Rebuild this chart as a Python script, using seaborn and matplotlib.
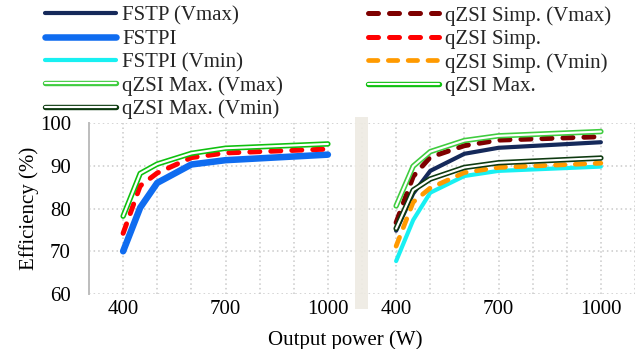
import matplotlib
matplotlib.use("Agg")
import matplotlib.pyplot as plt
import matplotlib.patheffects as pe
import seaborn as sns

# Output power (W) at which efficiency was measured
power = [400, 450, 500, 600, 700, 1000]

# Left group: nominal input voltage
fstpi = [70.0, 80.2, 86.0, 90.3, 91.3, 92.6]
qzsi_simp = [74.2, 85.3, 88.3, 91.9, 93.0, 93.9]
qzsi_max = [78.2, 88.2, 90.4, 92.9, 94.1, 95.1]

# Right group: maximum / minimum input voltage
fstp_vmax = [74.8, 83.5, 88.8, 92.8, 94.2, 95.5]
fstpi_vmin = [67.7, 77.3, 83.7, 87.6, 88.8, 89.8]
qzsi_simp_vmax = [76.7, 87.5, 92.0, 94.7, 96.0, 96.8]
qzsi_simp_vmin = [71.2, 81.5, 84.8, 88.4, 89.6, 90.6]
qzsi_max_vmax = [80.6, 89.9, 93.3, 95.9, 97.0, 98.0]
qzsi_max_vmin = [75.3, 84.3, 86.9, 89.6, 90.7, 91.8]

# Tick labels of the shared x axis (each group repeats the same scale)
tick_labels = ["400", "700", "1000"]
tick_values = [400, 700, 1000]

# The second group is drawn to the right of the first on one axis
GROUP_SHIFT = 800

sns.set_theme(style="white")
plt.rcParams["font.family"] = ["Liberation Serif", "DejaVu Serif"]
FS = 15

fig = plt.figure(figsize=(6.41, 3.49), dpi=100)
ax = fig.add_axes([89 / 641, 1 - 294 / 349, (635 - 89) / 641, (294 - 123) / 349])


def draw(x, y, color, lw, dashed=False, double=False, label=None, shift=0):
    xs = [v + shift for v in x]
    kw = dict(solid_capstyle="round", dash_capstyle="round",
              solid_joinstyle="round", dash_joinstyle="round")
    if double:
        sns.lineplot(x=xs, y=y, ax=ax, color="white", lw=lw * 0.4,
                     label=label, legend=False, sort=False,
                     path_effects=[pe.Stroke(linewidth=lw, foreground=color),
                                   pe.Normal()], **kw)
    elif dashed:
        sns.lineplot(x=xs, y=y, ax=ax, color=color, lw=lw,
                     linestyle=(0, (2.0, 2.2)), label=label, legend=False,
                     sort=False, **kw)
    else:
        sns.lineplot(x=xs, y=y, ax=ax, color=color, lw=lw, label=label,
                     legend=False, sort=False, **kw)


C_NAVY = "#15295A"
C_BLUE = "#0F6CF0"
C_CYAN = "#18F0F2"
C_DRED = "#7E0000"
C_RED = "#FF0000"
C_ORANGE = "#FF9A00"
C_LGREEN = "#3FCC3F"
C_GREEN = "#0FC00F"
C_DGREEN = "#0E3A10"

# left group
draw(power, fstpi, C_BLUE, 4.7, label="FSTPI")
draw(power, qzsi_simp, C_RED, 3.6, dashed=True, label="qZSI Simp.")
draw(power, qzsi_max, C_GREEN, 3.9, double=True, label="qZSI Max.")

# right group
draw(power, fstp_vmax, C_NAVY, 3.0, label="FSTP (Vmax)", shift=GROUP_SHIFT)
draw(power, fstpi_vmin, C_CYAN, 3.0, label="FSTPI (Vmin)", shift=GROUP_SHIFT)
draw(power, qzsi_simp_vmin, C_ORANGE, 3.4, dashed=True,
     label="qZSI Simp. (Vmin)", shift=GROUP_SHIFT)
draw(power, qzsi_simp_vmax, C_DRED, 3.6, dashed=True,
     label="qZSI Simp. (Vmax)", shift=GROUP_SHIFT)
draw(power, qzsi_max_vmin, C_DGREEN, 3.9, double=True,
     label="qZSI Max. (Vmin)", shift=GROUP_SHIFT)
draw(power, qzsi_max_vmax, C_LGREEN, 3.9, double=True,
     label="qZSI Max. (Vmax)", shift=GROUP_SHIFT)

# axes, grid and ticks
ax.set_xlim(300, 1900)
ax.set_ylim(60, 100)
grid_x = list(range(300, 1901, 100))
ax.set_xticks(grid_x)
label_map = {v: t for v, t in zip(tick_values, tick_labels)}
label_map.update({v + GROUP_SHIFT: t for v, t in zip(tick_values, tick_labels)})
ax.set_xticklabels([label_map.get(v, "") for v in grid_x])
ax.set_yticks([60, 70, 80, 90, 100])
ax.tick_params(axis="both", length=0, labelsize=FS, colors="black")
ax.tick_params(axis="y", pad=13)
ax.tick_params(axis="x", pad=4)
ax.set_axisbelow(True)
ax.grid(True, color="#C9C9C9", linestyle=(0, (1, 2)), lw=1.1)
for s in ["top", "right", "bottom"]:
    ax.spines[s].set_visible(False)
ax.spines["left"].set_color("#BDBDBD")
ax.spines["left"].set_linewidth(1.4)

# break between the two groups
ax.axvspan(1080, 1118, ymin=-0.085, ymax=1.035, color="#EEEBE3", alpha=0.92,
           lw=0, clip_on=False, zorder=1.5)

ax.set_xlabel("Output power (W)", fontsize=FS, color="black")
ax.set_ylabel("Efficiency (%)", fontsize=FS, color="black")
ax.xaxis.set_label_coords(0.47, -0.21)
ax.yaxis.set_label_coords(-0.092, 0.5)

# legend in two columns above the plot
lines = {l.get_label(): l for l in ax.get_lines()}
col1 = ["FSTP (Vmax)", "FSTPI", "FSTPI (Vmin)", "qZSI Max. (Vmax)", "qZSI Max. (Vmin)"]
col2 = ["qZSI Simp. (Vmax)", "qZSI Simp.", "qZSI Simp. (Vmin)", "qZSI Max."]
common = dict(frameon=False, fontsize=FS, handlelength=3.4, handletextpad=0.3,
              labelspacing=0.18, borderpad=0, borderaxespad=0, loc="upper left",
              bbox_transform=fig.transFigure)
leg1 = ax.legend([lines[k] for k in col1], col1,
                 bbox_to_anchor=(45 / 641, 1 - 6 / 349), **common)
ax.add_artist(leg1)
ax.legend([lines[k] for k in col2], col2,
          bbox_to_anchor=(368 / 641, 1 - 6 / 349), **common)

fig.savefig("out.png", dpi=100)
